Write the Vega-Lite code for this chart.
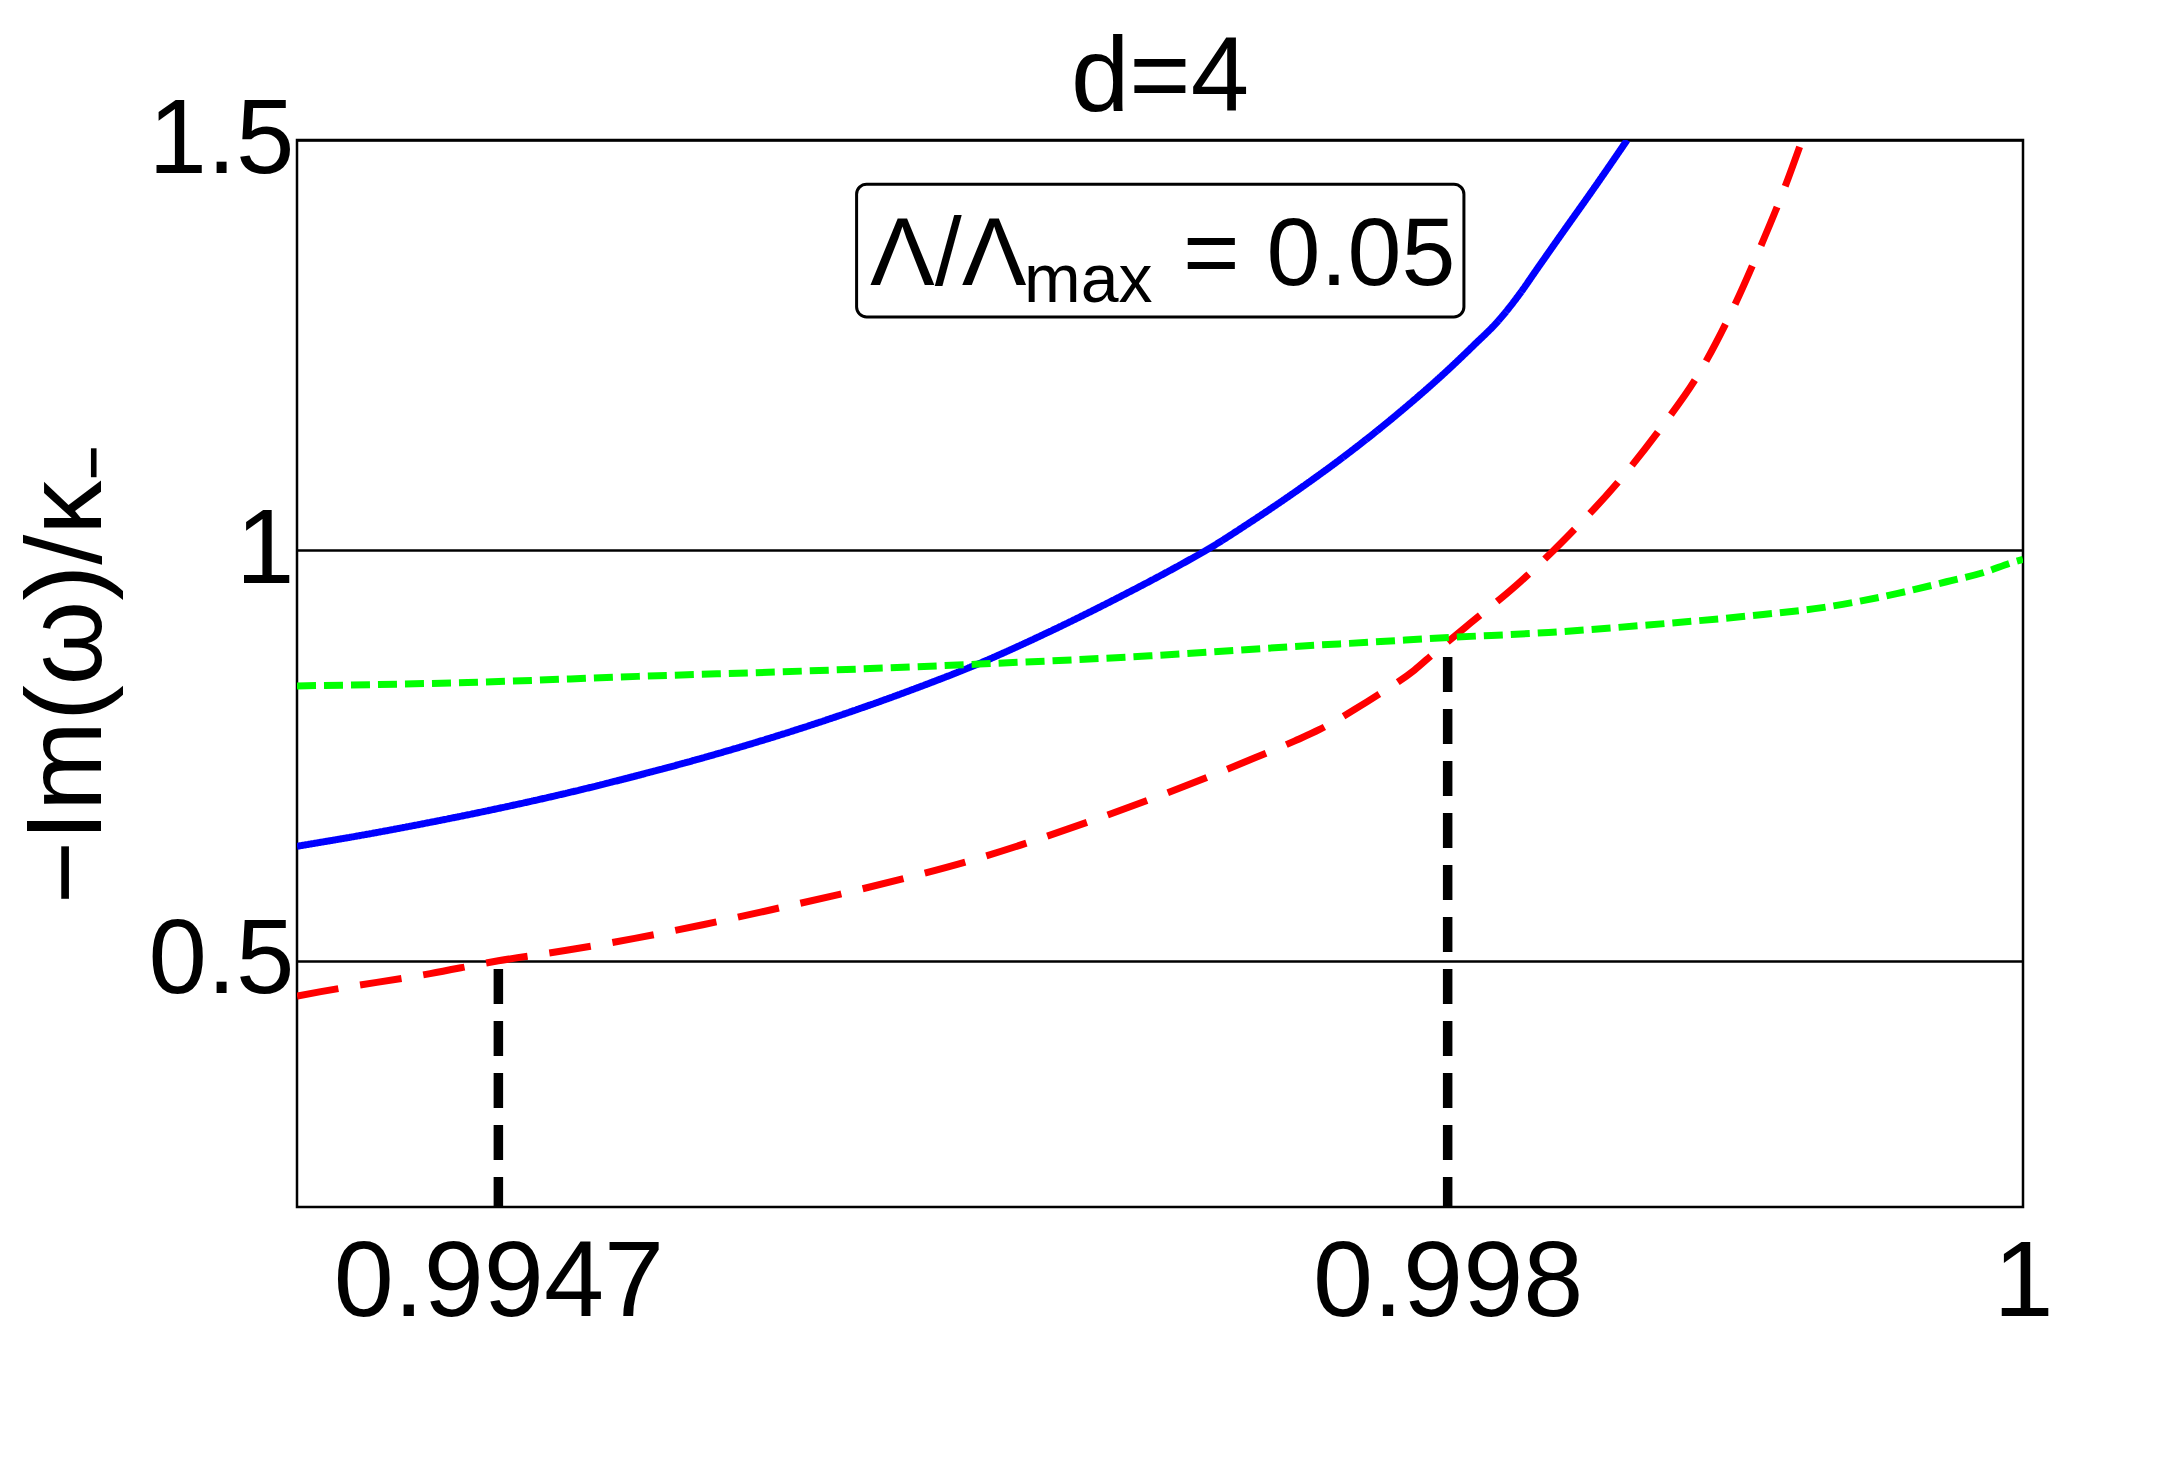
{
  "$schema": "https://vega.github.io/schema/vega-lite/v6.json",
  "width": 1726,
  "height": 1067,
  "autosize": {"type": "none"},
  "padding": {"left": 297, "top": 140, "right": 144, "bottom": 277},
  "background": "white",
  "title": {"text": "d=4", "font": "Liberation Sans", "fontSize": 105, "fontWeight": "normal", "color": "black", "anchor": "middle", "frame": "group", "baseline": "alphabetic", "offset": -127.5},
  "config": {"view": {"stroke": "black", "strokeWidth": 2.5}, "font": "Liberation Sans"},
  "datasets": {
    "curves": [
      {"s": "a", "x": 0.994000, "y": 0.6395},
      {"s": "a", "x": 0.994237, "y": 0.6537},
      {"s": "a", "x": 0.994474, "y": 0.6694},
      {"s": "a", "x": 0.994712, "y": 0.6865},
      {"s": "a", "x": 0.994949, "y": 0.7052},
      {"s": "a", "x": 0.995186, "y": 0.7259},
      {"s": "a", "x": 0.995423, "y": 0.7484},
      {"s": "a", "x": 0.995661, "y": 0.7731},
      {"s": "a", "x": 0.995898, "y": 0.8002},
      {"s": "a", "x": 0.996135, "y": 0.8298},
      {"s": "a", "x": 0.996372, "y": 0.8623},
      {"s": "a", "x": 0.996610, "y": 0.9000},
      {"s": "a", "x": 0.996847, "y": 0.9410},
      {"s": "a", "x": 0.997084, "y": 0.9850},
      {"s": "a", "x": 0.997155, "y": 0.9990},
      {"s": "a", "x": 0.997317, "y": 1.0350},
      {"s": "a", "x": 0.997486, "y": 1.0752},
      {"s": "a", "x": 0.997659, "y": 1.1195},
      {"s": "a", "x": 0.997832, "y": 1.1680},
      {"s": "a", "x": 0.998005, "y": 1.2212},
      {"s": "a", "x": 0.998091, "y": 1.2500},
      {"s": "a", "x": 0.998178, "y": 1.2805},
      {"s": "a", "x": 0.998247, "y": 1.3109},
      {"s": "a", "x": 0.998316, "y": 1.3455},
      {"s": "a", "x": 0.998385, "y": 1.3800},
      {"s": "a", "x": 0.998523, "y": 1.4485},
      {"s": "a", "x": 0.998624, "y": 1.5000},
      {"s": "b", "x": 0.994000, "y": 0.4570},
      {"s": "b", "x": 0.994083, "y": 0.4624},
      {"s": "b", "x": 0.994463, "y": 0.4843},
      {"s": "b", "x": 0.994700, "y": 0.5000},
      {"s": "b", "x": 0.994937, "y": 0.5128},
      {"s": "b", "x": 0.995174, "y": 0.5273},
      {"s": "b", "x": 0.995411, "y": 0.5439},
      {"s": "b", "x": 0.995649, "y": 0.5622},
      {"s": "b", "x": 0.995886, "y": 0.5810},
      {"s": "b", "x": 0.996111, "y": 0.6004},
      {"s": "b", "x": 0.996349, "y": 0.6229},
      {"s": "b", "x": 0.996574, "y": 0.6478},
      {"s": "b", "x": 0.996799, "y": 0.6753},
      {"s": "b", "x": 0.997025, "y": 0.7044},
      {"s": "b", "x": 0.997238, "y": 0.7340},
      {"s": "b", "x": 0.997330, "y": 0.7473},
      {"s": "b", "x": 0.997469, "y": 0.7679},
      {"s": "b", "x": 0.997555, "y": 0.7818},
      {"s": "b", "x": 0.997676, "y": 0.8060},
      {"s": "b", "x": 0.997759, "y": 0.8242},
      {"s": "b", "x": 0.997884, "y": 0.8540},
      {"s": "b", "x": 0.997956, "y": 0.8758},
      {"s": "b", "x": 0.998000, "y": 0.8885},
      {"s": "b", "x": 0.998065, "y": 0.9073},
      {"s": "b", "x": 0.998255, "y": 0.9625},
      {"s": "b", "x": 0.998368, "y": 1.0000},
      {"s": "b", "x": 0.998420, "y": 1.0182},
      {"s": "b", "x": 0.998589, "y": 1.0818},
      {"s": "b", "x": 0.998740, "y": 1.1485},
      {"s": "b", "x": 0.998878, "y": 1.2182},
      {"s": "b", "x": 0.998987, "y": 1.2909},
      {"s": "b", "x": 0.999085, "y": 1.3679},
      {"s": "b", "x": 0.999172, "y": 1.4424},
      {"s": "b", "x": 0.999232, "y": 1.5000},
      {"s": "c", "x": 0.994000, "y": 0.8349},
      {"s": "c", "x": 0.994593, "y": 0.8390},
      {"s": "c", "x": 0.995186, "y": 0.8465},
      {"s": "c", "x": 0.995779, "y": 0.8532},
      {"s": "c", "x": 0.996372, "y": 0.8615},
      {"s": "c", "x": 0.996965, "y": 0.8715},
      {"s": "c", "x": 0.997558, "y": 0.8848},
      {"s": "c", "x": 0.997659, "y": 0.8867},
      {"s": "c", "x": 0.998005, "y": 0.8939},
      {"s": "c", "x": 0.998351, "y": 0.9000},
      {"s": "c", "x": 0.998696, "y": 0.9091},
      {"s": "c", "x": 0.999042, "y": 0.9200},
      {"s": "c", "x": 0.999302, "y": 0.9303},
      {"s": "c", "x": 0.999561, "y": 0.9473},
      {"s": "c", "x": 0.999734, "y": 0.9618},
      {"s": "c", "x": 0.999872, "y": 0.9740},
      {"s": "c", "x": 0.999959, "y": 0.9848},
      {"s": "c", "x": 1.000000, "y": 0.9890}
    ],
    "markers": [
      {"x": 0.9947, "y": 0.2, "yt": 0.5},
      {"x": 0.998, "y": 0.2, "yt": 0.888}
    ],
    "box": [
      {"x": 0.9959453, "xr": 0.9980565, "y": 1.2844, "yt": 1.4461}
    ],
    "mainText": [
      {"x": 0.9959919, "y": 1.32286, "t": "Λ/Λ"},
      {"x": 0.99708, "y": 1.32286, "t": "= 0.05"}
    ],
    "subText": [
      {"x": 0.9965272, "y": 1.303, "t": "max"}
    ]
  },
  "encoding": {
    "x": {
      "field": "x", "type": "quantitative",
      "scale": {"domain": [0.994, 1], "nice": false, "zero": false},
      "axis": {
        "values": [0.9947, 0.998, 1],
        "labelExpr": "'' + datum.value",
        "grid": false, "ticks": false, "domain": false,
        "labelFont": "Liberation Sans", "labelFontSize": 108, "labelColor": "black",
        "labelPadding": 23, "labelFlush": false, "labelOverlap": false, "labelBound": false, "labelLimit": 0,
        "title": null
      }
    },
    "y": {
      "field": "y", "type": "quantitative",
      "scale": {"domain": [0.2, 1.5], "nice": false, "zero": false},
      "axis": {
        "values": [0.5, 1, 1.5],
        "labelExpr": "'' + datum.value",
        "grid": true, "gridColor": "black", "gridWidth": 2.5, "gridOpacity": 1,
        "ticks": false, "domain": false,
        "labelFont": "Liberation Sans", "labelFontSize": 105, "labelColor": "black",
        "labelPadding": 3, "labelFlush": false, "labelOverlap": false, "labelBound": false, "labelLimit": 0,
        "title": "−Im(ω)/κ₋",
        "titleFont": "Liberation Sans", "titleFontSize": 108, "titleFontWeight": "normal", "titleColor": "black",
        "titleAngle": 270, "titleX": -197, "titleY": 533.5, "titleAlign": "center", "titleBaseline": "alphabetic", "titleLimit": 0
      }
    }
  },
  "layer": [
    {
      "data": {"name": "curves"},
      "mark": {"type": "line", "strokeWidth": 7, "clip": true, "interpolate": "monotone"},
      "encoding": {
        "color": {
          "field": "s", "type": "nominal",
          "scale": {"domain": ["a", "b", "c"], "range": ["#0000ff", "#ff0000", "#00ff00"]},
          "legend": null
        },
        "strokeDash": {
          "field": "s", "type": "nominal",
          "scale": {"domain": ["a", "b", "c"], "range": [[1, 0], [42, 22], [19, 8]]},
          "legend": null
        }
      }
    },
    {
      "data": {"name": "markers"},
      "mark": {"type": "rule", "color": "black", "strokeWidth": 9.5, "strokeDash": [35, 17], "strokeDashOffset": 5},
      "encoding": {
        "y2": {"field": "yt"}
      }
    },
    {
      "data": {"name": "box"},
      "mark": {"type": "rect", "fill": "white", "stroke": "black", "strokeWidth": 3, "cornerRadius": 10},
      "encoding": {
        "x2": {"field": "xr"},
        "y2": {"field": "yt"}
      }
    },
    {
      "data": {"name": "mainText"},
      "mark": {"type": "text", "font": "Liberation Sans", "fontSize": 97, "align": "left", "baseline": "alphabetic", "color": "black"},
      "encoding": {
        "text": {"field": "t"}
      }
    },
    {
      "data": {"name": "subText"},
      "mark": {"type": "text", "font": "Liberation Sans", "fontSize": 68, "align": "left", "baseline": "alphabetic", "color": "black"},
      "encoding": {
        "text": {"field": "t"}
      }
    }
  ]
}
